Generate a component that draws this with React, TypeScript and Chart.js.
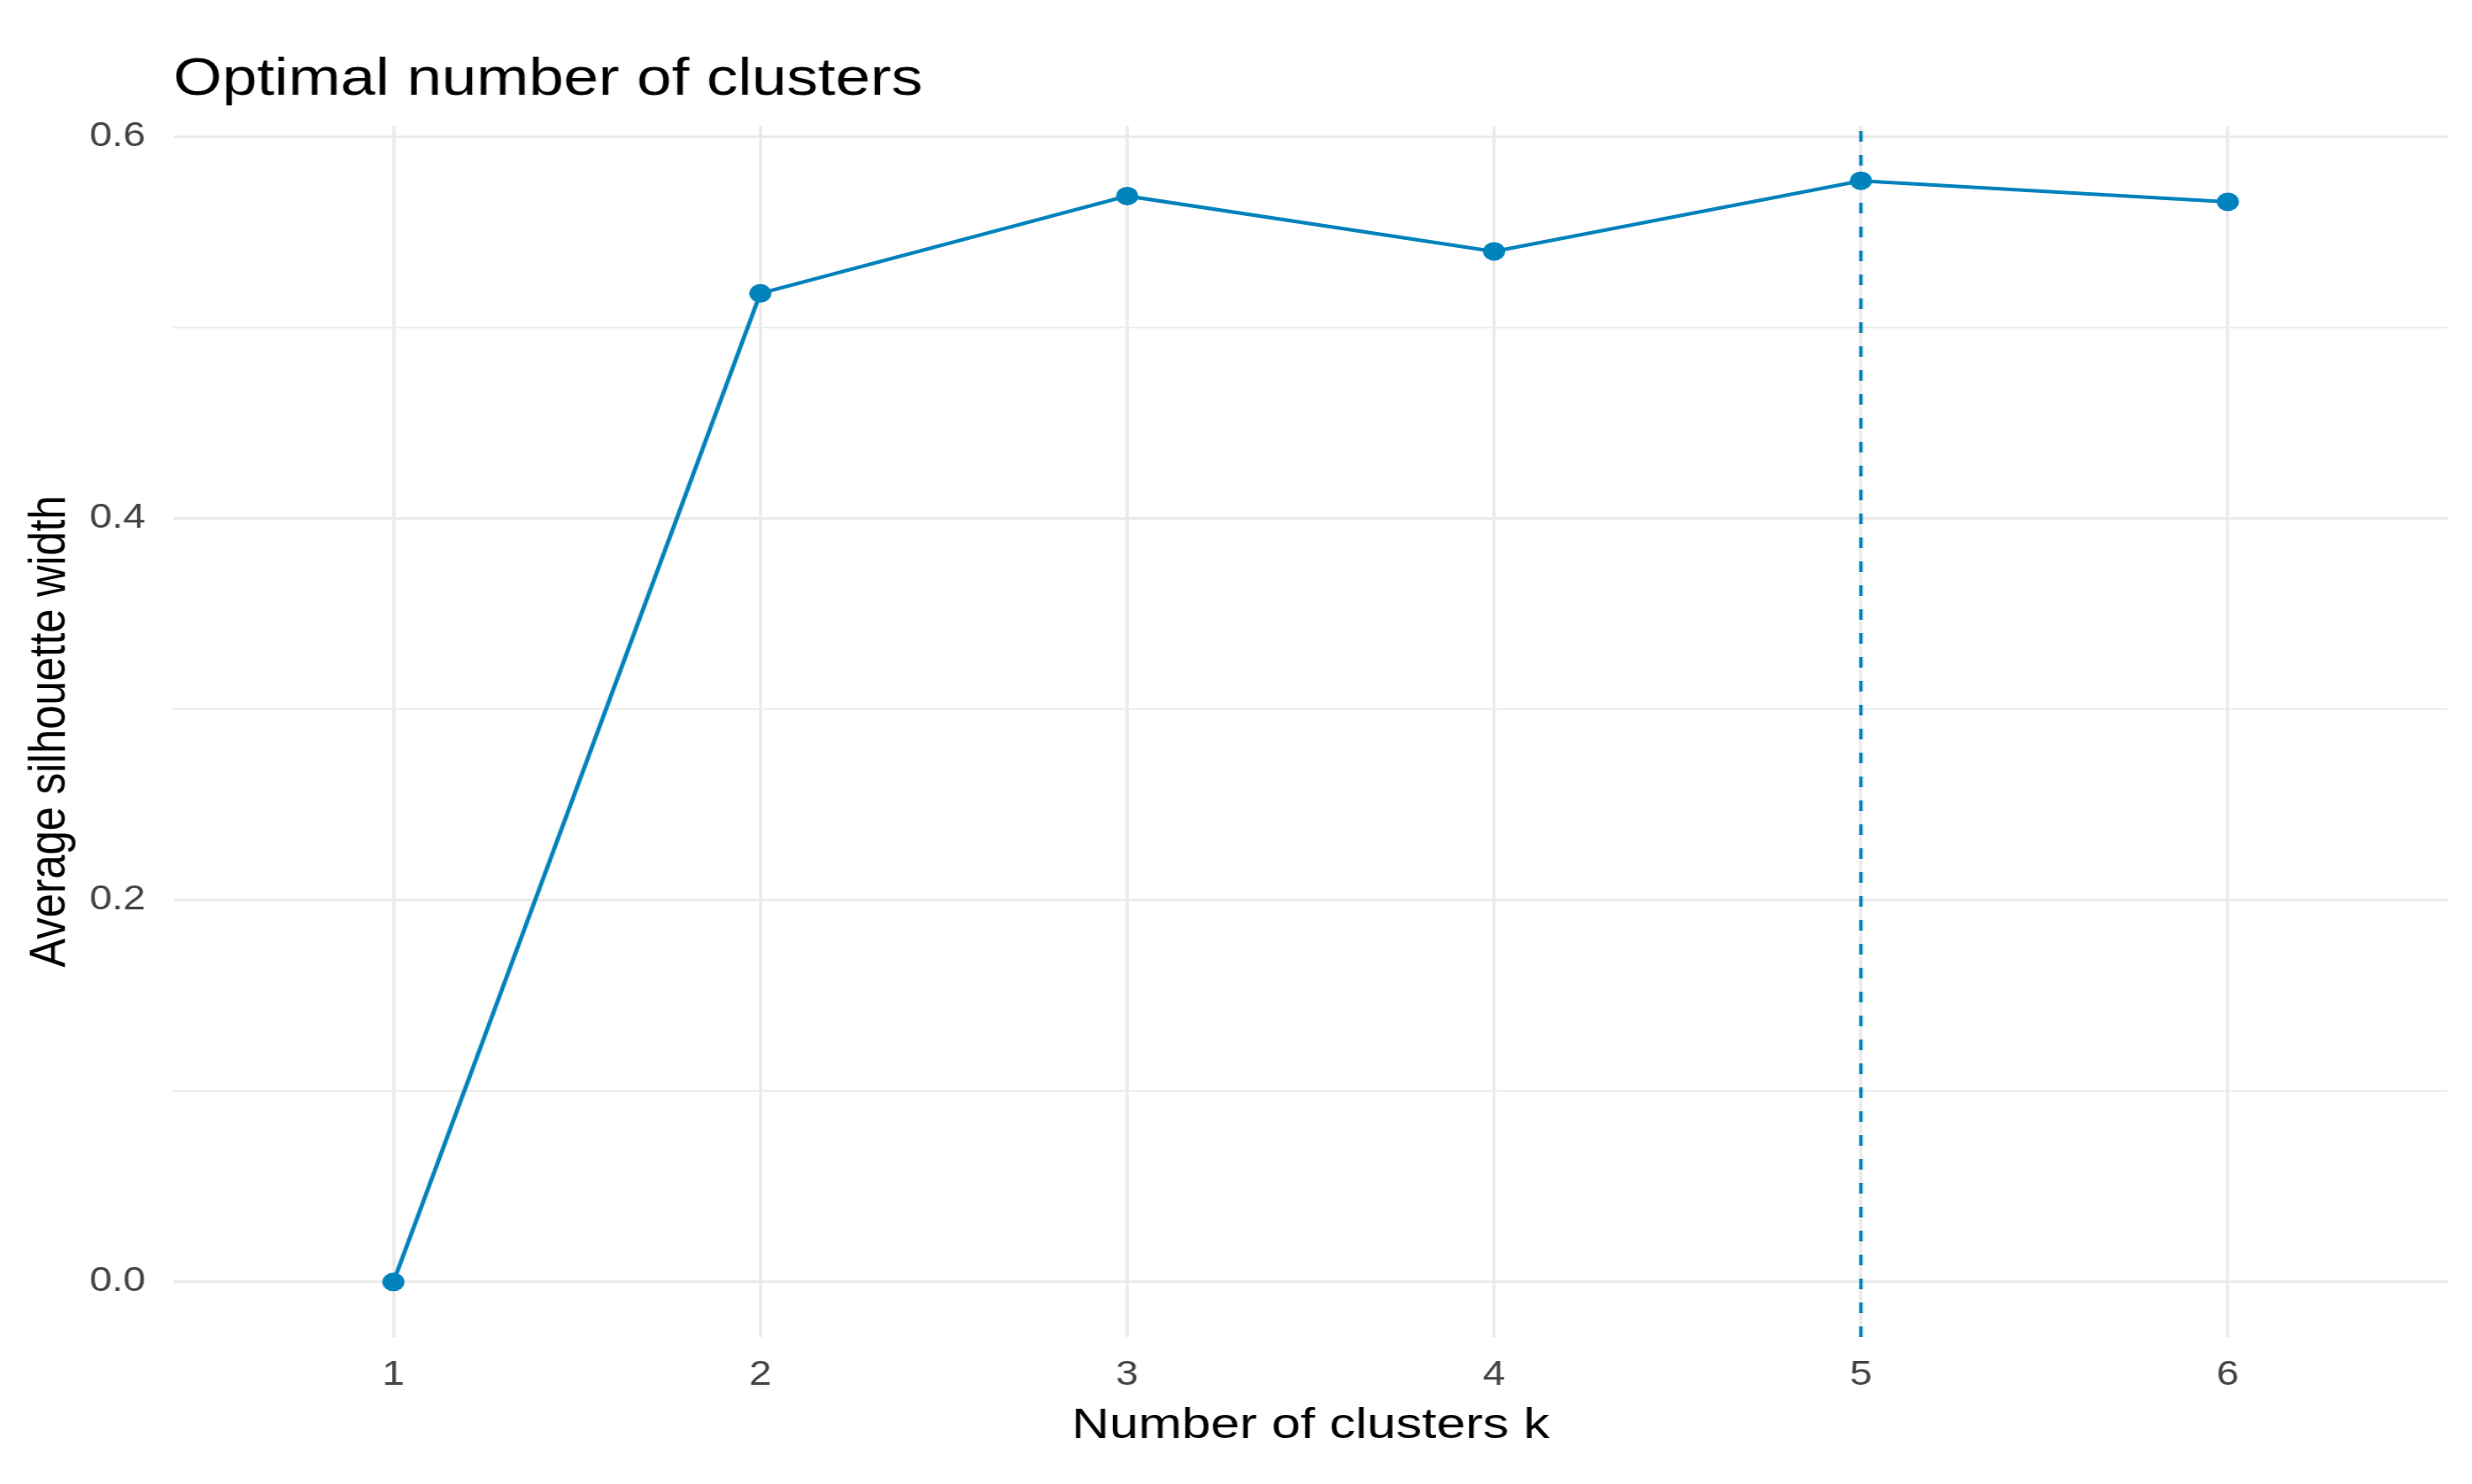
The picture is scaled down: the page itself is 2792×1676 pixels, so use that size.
import React, { useEffect, useRef } from "react";
import { Chart, registerables } from "chart.js";

Chart.register(...registerables);

// ---- data ----
const kValues = [1, 2, 3, 4, 5, 6];
const silhouetteWidths = [0, 0.518, 0.569, 0.54, 0.577, 0.566];
const optimalK = 5;
const xTickValues = [1, 2, 3, 4, 5, 6];
const yMajorTicks = [0, 0.2, 0.4, 0.6];
const yMinorTicks = [0.1, 0.3, 0.5];
const titleText = "Optimal number of clusters";
const xAxisTitle = "Number of clusters k";
const yAxisTitle = "Average silhouette width";

// ---- layout / style ----
const STRETCH = 1.2;
const W = 2792;
const H = 1676;
const INNER_W = W / STRETCH;
const FONT = '"Liberation Sans", Arial, Helvetica, sans-serif';
const BLUE = "#0082BC";
const GRID = "#EBEBEB";

const isMajor = (v: number) => yMajorTicks.some((m) => Math.abs(m - v) < 1e-9);

export default function App() {
  const ref = useRef<HTMLCanvasElement>(null);

  useEffect(() => {
    document.body.style.margin = "0";
    const canvas = ref.current!;
    const dataMax = Math.max(...silhouetteWidths);
    const dataMin = Math.min(...silhouetteWidths);
    const pad = 0.05 * (dataMax - dataMin);
    const yMin = dataMin - pad;
    const yMax = dataMax + pad;

    const titlePlugin = {
      id: "leftTitle",
      afterDraw(chart: any) {
        const ctx = chart.ctx;
        ctx.save();
        ctx.font = `59px ${FONT}`;
        ctx.fillStyle = "#000";
        ctx.textBaseline = "alphabetic";
        ctx.textAlign = "left";
        ctx.fillText(titleText, chart.chartArea.left, 107);
        ctx.restore();
      },
    };

    const chart = new Chart(canvas, {
      type: "line",
      data: {
        datasets: [
          {
            data: kValues.map((k, i) => ({ x: k, y: silhouetteWidths[i] })),
            borderColor: BLUE,
            backgroundColor: BLUE,
            borderWidth: 4,
            pointRadius: 10.5,
            pointBackgroundColor: BLUE,
            pointBorderWidth: 0,
            tension: 0,
          },
          {
            data: [
              { x: optimalK, y: yMin },
              { x: optimalK, y: yMax },
            ],
            borderColor: BLUE,
            borderWidth: 3.2,
            borderDash: [12, 15],
            pointRadius: 0,
          },
        ],
      },
      options: {
        animation: false,
        responsive: true,
        maintainAspectRatio: false,
        layout: { padding: { top: 142, right: INNER_W - 2303, bottom: 0, left: 0 } },
        plugins: {
          legend: { display: false },
          tooltip: { enabled: false },
          title: { display: false },
        },
        scales: {
          x: {
            type: "linear",
            min: 0.4,
            max: 6.6,
            afterBuildTicks: (s: any) => {
              s.ticks = xTickValues.map((v) => ({ value: v }));
            },
            afterFit: (s: any) => {
              s.height = H - 1510;
            },
            ticks: {
              font: { family: FONT, size: 38 },
              color: "#444444",
              padding: 21,
              maxRotation: 0,
              autoSkip: false,
              callback: (v: any) => String(v),
            },
            grid: { color: GRID, lineWidth: 3, drawTicks: false },
            border: { display: false },
            title: {
              display: true,
              text: xAxisTitle,
              font: { family: FONT, size: 49 },
              color: "#000",
              padding: { top: 0, bottom: 36 },
            },
          },
          y: {
            type: "linear",
            min: yMin,
            max: yMax,
            afterBuildTicks: (s: any) => {
              s.ticks = [...yMajorTicks, ...yMinorTicks]
                .sort((a, b) => a - b)
                .map((v) => ({ value: v }));
            },
            afterFit: (s: any) => {
              s.width = 163;
            },
            ticks: {
              font: { family: FONT, size: 38 },
              color: "#444444",
              padding: 26,
              autoSkip: false,
              callback: (v: any) => (isMajor(Number(v)) ? Number(v).toFixed(1) : ""),
            },
            grid: {
              color: GRID,
              lineWidth: (ctx: any) => (ctx.tick && !isMajor(ctx.tick.value) ? 1.8 : 3),
              drawTicks: false,
            },
            border: { display: false },
            title: {
              display: true,
              text: yAxisTitle,
              font: { family: FONT, size: 49 },
              color: "#000",
              padding: { top: 18, bottom: 0 },
            },
          },
        },
      },
      plugins: [titlePlugin],
    } as any);

    return () => chart.destroy();
  }, []);

  return (
    <div style={{ width: W, height: H, overflow: "hidden", background: "#fff" }}>
      <div
        style={{
          width: INNER_W,
          height: H,
          transform: `scaleX(${STRETCH})`,
          transformOrigin: "0 0",
          position: "relative",
        }}
      >
        <canvas ref={ref} />
      </div>
    </div>
  );
}
